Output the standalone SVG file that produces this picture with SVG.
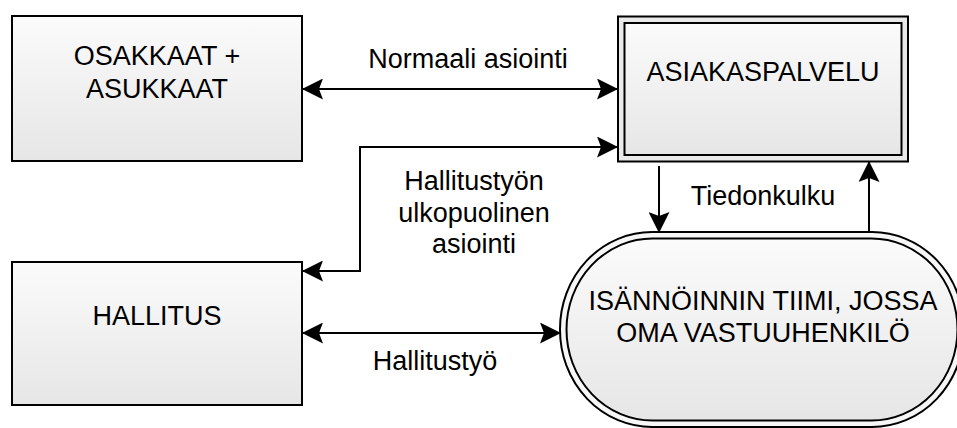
<svg xmlns="http://www.w3.org/2000/svg" width="957" height="428" viewBox="0 0 957 428">
  <style>
    .box { stroke: #000; stroke-width: 2; fill: url(#grad); }
    .node-text { font-family: "Liberation Sans", Arial, sans-serif; font-size: 27px; fill: #000; text-anchor: middle; }
    .label { font-family: "Liberation Sans", Arial, sans-serif; font-size: 27px; fill: #000; text-anchor: middle; }
    .conn { stroke: #000; stroke-width: 2; fill: none; }
  </style>
  <defs>
    <linearGradient id="grad" x1="0" y1="0" x2="0" y2="1">
      <stop offset="0" stop-color="#fbfbfb"/>
      <stop offset="1" stop-color="#e6e6e6"/>
    </linearGradient>
    <marker id="arrow" viewBox="0 0 21 21" refX="20" refY="10.5" markerWidth="21" markerHeight="21" markerUnits="userSpaceOnUse" orient="auto-start-reverse">
      <path d="M0,0 L21,10.5 L0,21 L4,10.5 Z" fill="#000"/>
    </marker>
  </defs>
  <rect width="957" height="428" fill="#fff"/>

  <g id="osakkaat">
    <rect class="box" x="12" y="16" width="290" height="145"/>
    <text class="node-text" x="157" y="65">OSAKKAAT +</text>
    <text class="node-text" x="157" y="98">ASUKKAAT</text>
  </g>

  <g id="asiakaspalvelu">
    <rect x="618" y="16.5" width="290" height="145" fill="#e9e9e9" stroke="#000" stroke-width="2"/>
    <rect class="box" x="624.5" y="23" width="277" height="132"/>
    <text class="node-text" x="763" y="81">ASIAKASPALVELU</text>
  </g>

  <g id="hallitus">
    <rect class="box" x="12" y="262" width="290" height="143"/>
    <text class="node-text" x="157" y="325">HALLITUS</text>
  </g>

  <g id="isannointi">
    <rect x="560" y="232" width="404" height="195" rx="92" ry="97" fill="#f7f7f7" stroke="#000" stroke-width="2"/>
    <rect class="box" x="566.5" y="238.5" width="391" height="182" rx="86" ry="91"/>
    <text class="node-text" x="763" y="310">ISÄNNÖINNIN TIIMI, JOSSA</text>
    <text class="node-text" x="763" y="342">OMA VASTUUHENKILÖ</text>
  </g>

  <g id="connectors">
    <line class="conn" x1="303" y1="89" x2="617" y2="89" marker-start="url(#arrow)" marker-end="url(#arrow)"/>
    <path class="conn" d="M617,147 H360 V271 H303" marker-start="url(#arrow)" marker-end="url(#arrow)"/>
    <line class="conn" x1="659" y1="166" x2="659" y2="232" marker-end="url(#arrow)"/>
    <line class="conn" x1="869" y1="232" x2="869" y2="162" marker-end="url(#arrow)"/>
    <line class="conn" x1="303" y1="333" x2="560" y2="333" marker-start="url(#arrow)" marker-end="url(#arrow)"/>
  </g>

  <g id="labels">
    <text class="label" x="468" y="68">Normaali asiointi</text>
    <text class="label" x="474" y="190">Hallitustyön</text>
    <text class="label" x="474" y="222">ulkopuolinen</text>
    <text class="label" x="474" y="253">asiointi</text>
    <text class="label" x="763" y="205">Tiedonkulku</text>
    <text class="label" x="435" y="370">Hallitustyö</text>
  </g>
</svg>
